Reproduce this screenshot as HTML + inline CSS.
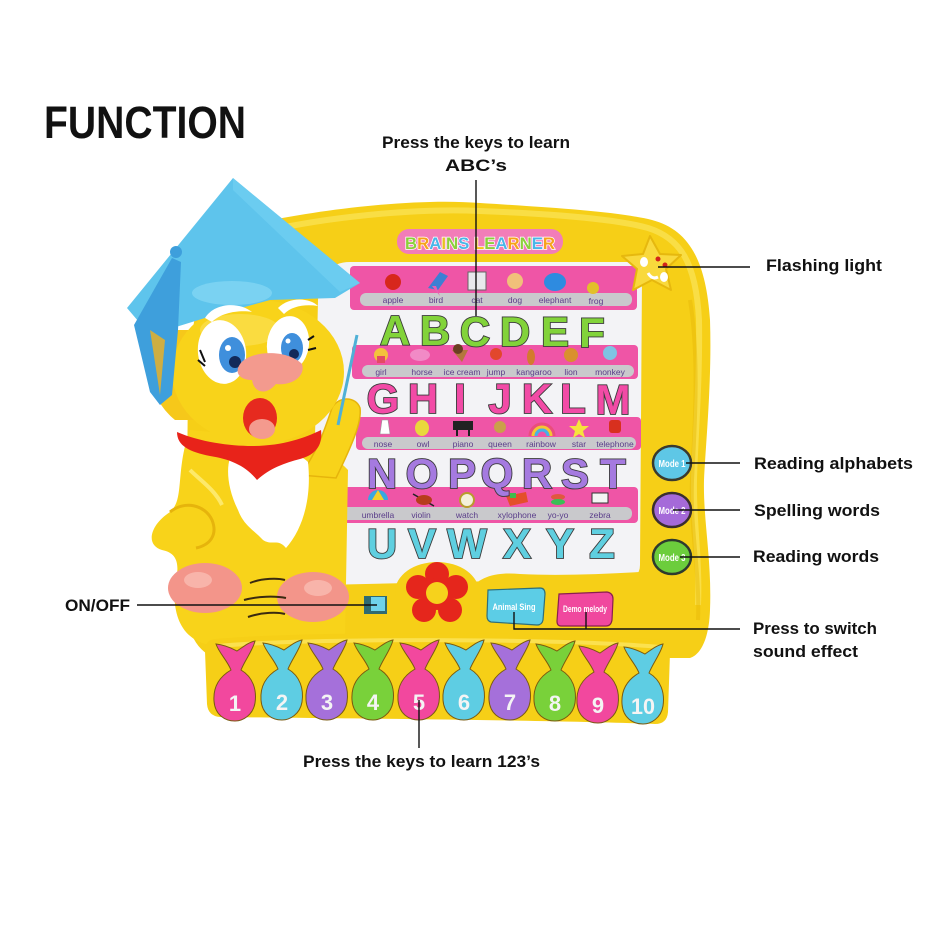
<!DOCTYPE html>
<html><head><meta charset="utf-8"><style>
html,body{margin:0;padding:0;background:#fff;}
svg{display:block;}
text{font-family:"Liberation Sans",Arial,sans-serif;}
</style></head><body>
<svg width="940" height="940" viewBox="0 0 940 940" xmlns="http://www.w3.org/2000/svg">
<rect width="940" height="940" fill="#ffffff"/>

<!-- Title -->
<text x="44" y="138" font-size="45" font-weight="bold" fill="#111" textLength="202" lengthAdjust="spacingAndGlyphs">FUNCTION</text>

<!-- Main yellow frame -->
<path d="M 262 222 C 330 208, 420 198, 480 203 C 560 208, 620 212, 652 220 C 690 230, 706 262, 710 320 C 712 380, 706 440, 704 480 C 703 520, 712 560, 710 610 C 709 640, 700 655, 690 658 L 215 658 C 195 650, 186 630, 186 600 L 188 380 C 190 300, 215 235, 262 222 Z" fill="#f6cf17"/>
<path d="M 280 228 C 340 216, 420 208, 480 211 C 560 214, 620 220, 648 228 C 680 238, 696 262, 699 320 C 700 380, 695 440, 694 480 C 693 520, 700 560, 698 605" fill="none" stroke="#fbe45a" stroke-width="6" opacity="0.7"/>
<path d="M 690 300 C 700 360, 694 440, 692 480 C 690 530, 700 570, 698 620" fill="none" stroke="#e8b90a" stroke-width="4" opacity="0.5"/>

<!-- White panel -->
<path d="M 350 262 L 628 262 Q 642 262 642 276 L 640 565 Q 640 578 626 578 L 322 585 Q 312 585 312 575 L 318 300 Q 320 262 350 262 Z" fill="#f3f3f6"/>

<!-- Pink stripes -->
<rect x="350" y="266" width="287" height="44" rx="4" fill="#ef55a6"/>
<rect x="360" y="293" width="272" height="13" rx="6" fill="#c9c9cc"/>
<rect x="352" y="345" width="286" height="34" rx="4" fill="#ef55a6"/>
<rect x="362" y="365" width="272" height="12" rx="6" fill="#c9c9cc"/>
<rect x="356" y="417" width="285" height="33" rx="4" fill="#ef55a6"/>
<rect x="362" y="437" width="274" height="12" rx="6" fill="#c9c9cc"/>
<rect x="315" y="487" width="323" height="36" rx="4" fill="#ef55a6"/>
<rect x="320" y="507" width="312" height="13" rx="6" fill="#c9c9cc"/>

<!-- Pictures row 1 -->
<circle cx="393" cy="282" r="8" fill="#d7271c"/>
<path d="M 428 288 L 440 272 L 448 276 L 438 290 Z" fill="#3d7fd4"/><path d="M 432 286 L 440 296 L 436 286 Z" fill="#e75fb3"/>
<rect x="468" y="272" width="18" height="18" fill="#e8e8ec" stroke="#666" stroke-width="1"/>
<circle cx="515" cy="281" r="8" fill="#f1c07a"/>
<ellipse cx="555" cy="282" rx="11" ry="9" fill="#2e8be0"/>
<ellipse cx="593" cy="288" rx="6" ry="6" fill="#e2c02a"/>
<g font-size="8.5" fill="#5a3d8a" text-anchor="middle">
<text x="393" y="303">apple</text><text x="436" y="303">bird</text><text x="477" y="303">cat</text><text x="515" y="303">dog</text><text x="555" y="303">elephant</text><text x="596" y="304">frog</text>
</g>

<!-- Pictures row 2 -->
<circle cx="381" cy="355" r="7" fill="#f3c23c"/><rect x="377" y="356" width="8" height="7" fill="#e34a64"/>
<ellipse cx="420" cy="355" rx="10" ry="6" fill="#f18ac6"/>
<path d="M 452 350 L 468 350 L 462 362 Z" fill="#b4763d"/><circle cx="458" cy="349" r="5" fill="#6b3e22"/>
<circle cx="496" cy="354" r="6" fill="#e2472c"/>
<ellipse cx="531" cy="357" rx="4" ry="8" fill="#d37a2e"/>
<circle cx="571" cy="355" r="7" fill="#d9902e"/>
<circle cx="610" cy="353" r="7" fill="#7fc3e3"/>
<g font-size="8.5" fill="#5a3d8a" text-anchor="middle">
<text x="381" y="375">girl</text><text x="422" y="375">horse</text><text x="462" y="375">ice cream</text><text x="496" y="375">jump</text><text x="534" y="375">kangaroo</text><text x="571" y="375">lion</text><text x="610" y="375">monkey</text>
</g>

<!-- Pictures row 3 -->
<path d="M 382 420 L 388 420 L 390 434 L 380 434 Z" fill="#ffffff" stroke="#999" stroke-width="0.6"/>
<ellipse cx="422" cy="428" rx="7" ry="8" fill="#e9d83c"/>
<rect x="453" y="421" width="20" height="9" fill="#222"/><rect x="456" y="430" width="2" height="6" fill="#222"/><rect x="468" y="430" width="2" height="6" fill="#222"/>
<circle cx="500" cy="427" r="6" fill="#caa04a"/>
<path d="M 530 436 A 12 12 0 0 1 554 436" fill="none" stroke="#e94e7c" stroke-width="3"/><path d="M 533 436 A 9 9 0 0 1 551 436" fill="none" stroke="#f4c631" stroke-width="3"/><path d="M 536 436 A 6 6 0 0 1 548 436" fill="none" stroke="#46b1e6" stroke-width="3"/>
<polygon points="579,419 582,426 589,426 583,431 585,438 579,434 573,438 575,431 569,426 576,426" fill="#f6e33c"/>
<rect x="609" y="420" width="12" height="13" rx="3" fill="#d8301e"/>
<g font-size="8.5" fill="#5a3d8a" text-anchor="middle">
<text x="383" y="447">nose</text><text x="423" y="447">owl</text><text x="463" y="447">piano</text><text x="500" y="447">queen</text><text x="541" y="447">rainbow</text><text x="579" y="447">star</text><text x="615" y="447">telephone</text>
</g>

<!-- Pictures row 4 -->
<path d="M 368 500 A 10 10 0 0 1 388 500 Z" fill="#3aa7e0"/><path d="M 372 500 L 378 490 L 384 500 Z" fill="#f4d02a"/>
<path d="M 413 494 L 434 506" stroke="#222" stroke-width="1.5"/><ellipse cx="424" cy="500" rx="8" ry="5" fill="#b73d1c"/>
<circle cx="467" cy="500" r="7" fill="#f4f0da" stroke="#b89c2c" stroke-width="2"/>
<path d="M 506 496 L 526 492 L 528 502 L 510 506 Z" fill="#e44f2a"/><rect x="510" y="493" width="6" height="5" fill="#3fbb4c"/>
<ellipse cx="558" cy="497" rx="7" ry="3" fill="#e0583f"/><ellipse cx="558" cy="502" rx="7" ry="3" fill="#3bbf56"/>
<rect x="592" y="493" width="16" height="10" fill="#f4f4f4" stroke="#333" stroke-width="1"/>
<g font-size="8.5" fill="#5a3d8a" text-anchor="middle">
<text x="378" y="518">umbrella</text><text x="421" y="518">violin</text><text x="467" y="518">watch</text><text x="517" y="518">xylophone</text><text x="558" y="518">yo-yo</text><text x="600" y="518">zebra</text>
</g>

<!-- Letters -->
<g font-size="42" font-weight="bold" text-anchor="middle" stroke="#3a3a3a" stroke-width="1.8" paint-order="stroke">
<g fill="#82d33a">
<text x="395" y="345">A</text><text x="435" y="345">B</text><text x="475" y="346">C</text><text x="515" y="346">D</text><text x="555" y="346">E</text><text x="592" y="347">F</text>
</g>
<g fill="#f24ba6">
<text x="383" y="413">G</text><text x="423" y="413">H</text><text x="460" y="413">I</text><text x="500" y="413">J</text><text x="537" y="413">K</text><text x="573" y="413">L</text><text x="613" y="414">M</text>
</g>
<g fill="#a57ae0">
<text x="382" y="488">N</text><text x="422" y="488">O</text><text x="462" y="488">P</text><text x="497" y="488">Q</text><text x="537" y="488">R</text><text x="575" y="488">S</text><text x="613" y="488">T</text>
</g>
<g fill="#5fcfe0">
<text x="382" y="558">U</text><text x="422" y="558">V</text><text x="467" y="558">W</text><text x="517" y="558">X</text><text x="560" y="558">Y</text><text x="602" y="558">Z</text>
</g>
</g>

<!-- Brains learner logo -->
<rect x="397" y="229" width="166" height="25" rx="12" fill="#f27db8"/>
<text x="405" y="249" font-size="17" font-weight="bold" textLength="150" lengthAdjust="spacingAndGlyphs" stroke="#ffffff" stroke-width="1.5" paint-order="stroke"><tspan fill="#8bcf3a">B</tspan><tspan fill="#f7a21b">R</tspan><tspan fill="#4ab6e8">A</tspan><tspan fill="#e8c020">I</tspan><tspan fill="#8bcf3a">N</tspan><tspan fill="#4ab6e8">S</tspan><tspan fill="#f7c21b"> L</tspan><tspan fill="#8bcf3a">E</tspan><tspan fill="#4ab6e8">A</tspan><tspan fill="#f7a21b">R</tspan><tspan fill="#8bcf3a">N</tspan><tspan fill="#4ab6e8">E</tspan><tspan fill="#f7a21b">R</tspan></text>

<!-- Star flashing light -->
<polygon points="650,236 660,254 681,255 666,269 671,290 652,280 633,290 637,269 622,256 643,254" fill="#f9d93c" stroke="#e6b80e" stroke-width="2" stroke-linejoin="round"/>
<ellipse cx="644" cy="262" rx="4" ry="5" fill="#fff"/><ellipse cx="664" cy="277" rx="4" ry="5" fill="#fff"/><path d="M 648 273 Q 652 280 658 277" stroke="#fff" stroke-width="3" fill="none"/>
<circle cx="658" cy="259" r="2.5" fill="#d2231a"/><circle cx="665" cy="265" r="2.5" fill="#d2231a"/>

<!-- Mode buttons -->
<ellipse cx="672" cy="463" rx="19" ry="17" fill="#5ec7e6" stroke="#3a3a2e" stroke-width="2.5"/>
<ellipse cx="672" cy="510" rx="19" ry="17" fill="#a56ad9" stroke="#3a2e2e" stroke-width="2.5"/>
<ellipse cx="672" cy="557" rx="19" ry="17" fill="#6ccd3c" stroke="#2e3a2e" stroke-width="2.5"/>
<g font-size="10" font-weight="bold" fill="#ffffff" text-anchor="middle">
<text x="672" y="467" textLength="27" lengthAdjust="spacingAndGlyphs">Mode 1</text>
<text x="672" y="514" textLength="27" lengthAdjust="spacingAndGlyphs">Mode 2</text>
<text x="672" y="561" textLength="27" lengthAdjust="spacingAndGlyphs">Mode 3</text>
</g>

<!-- Bottom yellow bulge around flower -->
<ellipse cx="437" cy="592" rx="42" ry="30" fill="#f6cf17"/>
<path d="M 470 590 C 480 575, 500 572, 520 574 C 560 576, 600 574, 640 572 L 640 600 L 470 600 Z" fill="#f6cf17"/>

<!-- Flower -->
<g fill="#e5261c">
<circle cx="437" cy="574" r="12"/><circle cx="456" cy="587" r="12"/><circle cx="450" cy="610" r="12"/><circle cx="424" cy="610" r="12"/><circle cx="418" cy="587" r="12"/><circle cx="437" cy="594" r="16"/>
</g>
<circle cx="437" cy="593" r="11" fill="#f6d21c"/>

<!-- Animal Sing / Demo melody buttons -->
<path d="M 488 590 L 540 588 Q 545 588 545 594 L 543 620 Q 542 625 537 625 L 491 622 Q 487 621 487 616 Z" fill="#5ccde6" stroke="#2f6f7a" stroke-width="1.2"/>
<text x="514" y="610" font-size="9.5" font-weight="bold" fill="#ffffff" text-anchor="middle" textLength="43" lengthAdjust="spacingAndGlyphs">Animal Sing</text>
<path d="M 559 594 L 607 592 Q 613 593 613 599 L 612 620 Q 611 626 606 626 L 561 626 Q 557 626 557 621 Z" fill="#f0489e" stroke="#8a1f4f" stroke-width="1.2"/>
<text x="585" y="612" font-size="9.5" font-weight="bold" fill="#ffffff" text-anchor="middle" textLength="44" lengthAdjust="spacingAndGlyphs">Demo melody</text>

<!-- Owl left ear/back behind hat -->
<path d="M 150 330 C 140 360, 150 400, 175 420 L 200 420 L 200 330 Z" fill="#f6c81a"/>

<!-- Owl body -->
<path d="M 190 430 C 175 470, 185 500, 170 512 C 150 525, 145 545, 162 550 C 178 553, 180 565, 175 585 C 172 615, 182 640, 210 645 L 345 640 L 348 470 C 330 450, 300 440, 190 430 Z" fill="#f8d31a"/>
<path d="M 170 512 C 185 500, 205 505, 212 520 C 218 535, 210 545, 196 548" fill="none" stroke="#e6b40c" stroke-width="3"/>
<path d="M 190 470 C 200 480, 215 490, 222 505" fill="none" stroke="#fde96a" stroke-width="4"/>
<!-- arm -->
<path d="M 300 475 C 318 452, 326 425, 332 408 C 338 396, 356 396, 360 408 C 362 422, 352 445, 336 478 Z" fill="#f8d31a" stroke="#e6b40c" stroke-width="1.5"/>
<line x1="338" y1="425" x2="357" y2="335" stroke="#4fb0d6" stroke-width="3"/>
<!-- chest -->
<path d="M 230 458 C 245 448, 295 448, 308 462 C 312 500, 302 530, 286 548 C 278 538, 272 546, 263 540 C 254 530, 244 526, 238 510 C 228 490, 226 470, 230 458 Z" fill="#ffffff"/>
<!-- bandana -->
<path d="M 177 432 C 200 442, 230 446, 252 446 C 282 446, 305 438, 321 430 C 323 446, 315 455, 300 459 C 285 463, 270 468, 257 480 C 246 466, 230 459, 210 456 C 190 452, 177 446, 177 432 Z" fill="#e8231a"/>
<!-- feet -->
<ellipse cx="205" cy="588" rx="37" ry="25" fill="#f3958a"/>
<ellipse cx="313" cy="597" rx="36" ry="25" fill="#f3958a"/>
<ellipse cx="198" cy="580" rx="14" ry="8" fill="#f8b4aa"/>
<ellipse cx="318" cy="588" rx="14" ry="8" fill="#f8b4aa"/>
<!-- speaker -->
<g fill="none" stroke="#3a2a10" stroke-width="2">
<path d="M 250 583 C 262 578, 278 578, 285 580"/>
<path d="M 244 600 C 258 596, 276 596, 286 598"/>
<path d="M 248 617 C 262 612, 278 612, 285 614"/>
</g>
<!-- switch -->
<rect x="364" y="596" width="23" height="18" fill="#2f6b72"/>
<rect x="371" y="597" width="14" height="14" fill="#6fd2ea"/>

<!-- head -->
<ellipse cx="258" cy="372" rx="86" ry="72" fill="#f8d31a"/>
<ellipse cx="240" cy="330" rx="40" ry="16" fill="#fbe25a" opacity="0.6"/>

<!-- Hat -->
<polygon points="233,178 360,283 335,298 270,300 205,318 150,335 127,308" fill="#5ec4ec"/>
<polygon points="233,178 360,283 340,292 233,190" fill="#71d0f2" opacity="0.7"/>
<ellipse cx="232" cy="293" rx="40" ry="12" fill="#7ad2f2"/>
<!-- tassel -->
<path d="M 172 258 L 181 262 L 178 330 L 172 395 L 160 405 L 150 392 L 140 350 L 134 325 Z" fill="#3e9fdc"/>
<path d="M 150 330 L 160 395 L 165 340 Z" fill="#f2b21c" opacity="0.8"/>
<circle cx="176" cy="252" r="6" fill="#3e9fdc"/>

<!-- eyebrows -->
<path d="M 205 318 C 215 302, 240 302, 252 312 C 240 310, 222 312, 212 322 Z" fill="#ffffff"/>
<path d="M 278 308 C 290 296, 310 298, 318 306 C 305 304, 292 306, 284 314 Z" fill="#ffffff"/>
<!-- eyes -->
<ellipse cx="222" cy="352" rx="24" ry="32" fill="#ffffff" transform="rotate(-8 222 352)"/>
<ellipse cx="288" cy="344" rx="21" ry="28" fill="#ffffff" transform="rotate(8 288 344)"/>
<ellipse cx="232" cy="355" rx="13" ry="18" fill="#3f8fdc"/>
<ellipse cx="292" cy="348" rx="11" ry="15" fill="#3f8fdc"/>
<circle cx="235" cy="362" r="6" fill="#122a5a"/>
<circle cx="294" cy="354" r="5" fill="#122a5a"/>
<circle cx="228" cy="348" r="3" fill="#fff"/><circle cx="288" cy="341" r="2.5" fill="#fff"/>
<path d="M 200 350 L 205 362 M 198 360 L 205 366 M 308 340 L 314 336 M 308 350 L 316 348" stroke="#111" stroke-width="2"/>
<!-- beak -->
<path d="M 238 368 C 244 350, 286 348, 302 364 C 306 376, 292 386, 276 384 C 266 396, 254 393, 252 380 C 242 380, 236 375, 238 368 Z" fill="#f39a8e"/>
<!-- mouth -->
<ellipse cx="260" cy="418" rx="17" ry="20" fill="#e62a1f"/>
<ellipse cx="262" cy="429" rx="13" ry="10" fill="#f49a8e"/>

<!-- Number key bar -->
<path d="M 215 639 C 300 631, 560 631, 660 640 Q 670 642 670 653 L 668 712 Q 667 724 655 724 C 560 720, 300 718, 220 717 Q 208 716 207 704 L 205 651 Q 205 640 215 639 Z" fill="#f6cf17"/>
<path d="M 218 646 C 300 638, 560 638, 660 647" fill="none" stroke="#fde55e" stroke-width="4" opacity="0.8"/>

<!-- Keys -->
<g stroke="#7a5a10" stroke-width="1">
<path transform="translate(235 695)" fill="#f2489e" d="M -4 -25 C -8 -35, -16 -42, -19 -51 C -9 -50, -2 -46, 2 -44 C 8 -48, 14 -53, 20 -54 C 18 -45, 10 -35, 6 -25 C 18 -18, 22 -5, 20 8 C 18 20, 8 26, 0 26 C -10 26, -20 20, -21 6 C -22 -8, -16 -18, -4 -25 Z"/>
<path transform="translate(282 694)" fill="#5ecde3" d="M -4 -25 C -8 -35, -16 -42, -19 -51 C -9 -50, -2 -46, 2 -44 C 8 -48, 14 -53, 20 -54 C 18 -45, 10 -35, 6 -25 C 18 -18, 22 -5, 20 8 C 18 20, 8 26, 0 26 C -10 26, -20 20, -21 6 C -22 -8, -16 -18, -4 -25 Z"/>
<path transform="translate(327 694)" fill="#a570da" d="M -4 -25 C -8 -35, -16 -42, -19 -51 C -9 -50, -2 -46, 2 -44 C 8 -48, 14 -53, 20 -54 C 18 -45, 10 -35, 6 -25 C 18 -18, 22 -5, 20 8 C 18 20, 8 26, 0 26 C -10 26, -20 20, -21 6 C -22 -8, -16 -18, -4 -25 Z"/>
<path transform="translate(373 694)" fill="#79d13a" d="M -4 -25 C -8 -35, -16 -42, -19 -51 C -9 -50, -2 -46, 2 -44 C 8 -48, 14 -53, 20 -54 C 18 -45, 10 -35, 6 -25 C 18 -18, 22 -5, 20 8 C 18 20, 8 26, 0 26 C -10 26, -20 20, -21 6 C -22 -8, -16 -18, -4 -25 Z"/>
<path transform="translate(419 694)" fill="#f2489e" d="M -4 -25 C -8 -35, -16 -42, -19 -51 C -9 -50, -2 -46, 2 -44 C 8 -48, 14 -53, 20 -54 C 18 -45, 10 -35, 6 -25 C 18 -18, 22 -5, 20 8 C 18 20, 8 26, 0 26 C -10 26, -20 20, -21 6 C -22 -8, -16 -18, -4 -25 Z"/>
<path transform="translate(464 694)" fill="#5ecde3" d="M -4 -25 C -8 -35, -16 -42, -19 -51 C -9 -50, -2 -46, 2 -44 C 8 -48, 14 -53, 20 -54 C 18 -45, 10 -35, 6 -25 C 18 -18, 22 -5, 20 8 C 18 20, 8 26, 0 26 C -10 26, -20 20, -21 6 C -22 -8, -16 -18, -4 -25 Z"/>
<path transform="translate(510 694)" fill="#a570da" d="M -4 -25 C -8 -35, -16 -42, -19 -51 C -9 -50, -2 -46, 2 -44 C 8 -48, 14 -53, 20 -54 C 18 -45, 10 -35, 6 -25 C 18 -18, 22 -5, 20 8 C 18 20, 8 26, 0 26 C -10 26, -20 20, -21 6 C -22 -8, -16 -18, -4 -25 Z"/>
<path transform="translate(555 695)" fill="#79d13a" d="M -4 -25 C -8 -35, -16 -42, -19 -51 C -9 -50, -2 -46, 2 -44 C 8 -48, 14 -53, 20 -54 C 18 -45, 10 -35, 6 -25 C 18 -18, 22 -5, 20 8 C 18 20, 8 26, 0 26 C -10 26, -20 20, -21 6 C -22 -8, -16 -18, -4 -25 Z"/>
<path transform="translate(598 697)" fill="#f2489e" d="M -4 -25 C -8 -35, -16 -42, -19 -51 C -9 -50, -2 -46, 2 -44 C 8 -48, 14 -53, 20 -54 C 18 -45, 10 -35, 6 -25 C 18 -18, 22 -5, 20 8 C 18 20, 8 26, 0 26 C -10 26, -20 20, -21 6 C -22 -8, -16 -18, -4 -25 Z"/>
<path transform="translate(643 698)" fill="#5ecde3" d="M -4 -25 C -8 -35, -16 -42, -19 -51 C -9 -50, -2 -46, 2 -44 C 8 -48, 14 -53, 20 -54 C 18 -45, 10 -35, 6 -25 C 18 -18, 22 -5, 20 8 C 18 20, 8 26, 0 26 C -10 26, -20 20, -21 6 C -22 -8, -16 -18, -4 -25 Z"/>
</g>
<g font-size="22" font-weight="bold" fill="#f4f4f4" text-anchor="middle">
<text x="235" y="711">1</text><text x="282" y="710">2</text><text x="327" y="710">3</text><text x="373" y="710">4</text><text x="419" y="710">5</text><text x="464" y="710">6</text><text x="510" y="710">7</text><text x="555" y="711">8</text><text x="598" y="713">9</text><text x="643" y="714" textLength="24" lengthAdjust="spacingAndGlyphs">10</text>
</g>

<!-- Connector lines -->
<g stroke="#111" stroke-width="1.4" fill="none">
<line x1="476" y1="180" x2="476" y2="316"/>
<line x1="658" y1="267" x2="750" y2="267"/>
<line x1="686" y1="463" x2="740" y2="463"/>
<line x1="673" y1="510" x2="740" y2="510"/>
<line x1="680" y1="557" x2="740" y2="557"/>
<line x1="137" y1="605" x2="377" y2="605"/>
<polyline points="514,612 514,629 740,629"/>
<line x1="586" y1="612" x2="586" y2="629"/>
<line x1="419" y1="700" x2="419" y2="748"/>
</g>

<!-- Labels -->
<g font-size="17" font-weight="bold" fill="#111">
<text x="382" y="148" textLength="188" lengthAdjust="spacingAndGlyphs">Press the keys to learn</text>
<text x="445" y="171" textLength="62" lengthAdjust="spacingAndGlyphs">ABC’s</text>
<text x="766" y="271" textLength="116" lengthAdjust="spacingAndGlyphs">Flashing light</text>
<text x="754" y="469" textLength="159" lengthAdjust="spacingAndGlyphs">Reading alphabets</text>
<text x="754" y="516" textLength="126" lengthAdjust="spacingAndGlyphs">Spelling words</text>
<text x="753" y="562" textLength="126" lengthAdjust="spacingAndGlyphs">Reading words</text>
<text x="65" y="611" textLength="65" lengthAdjust="spacingAndGlyphs">ON/OFF</text>
<text x="753" y="634" textLength="124" lengthAdjust="spacingAndGlyphs">Press to switch</text>
<text x="753" y="657" textLength="105" lengthAdjust="spacingAndGlyphs">sound effect</text>
<text x="303" y="767" textLength="237" lengthAdjust="spacingAndGlyphs">Press the keys to learn 123’s</text>
</g>
</svg>
</body></html>
